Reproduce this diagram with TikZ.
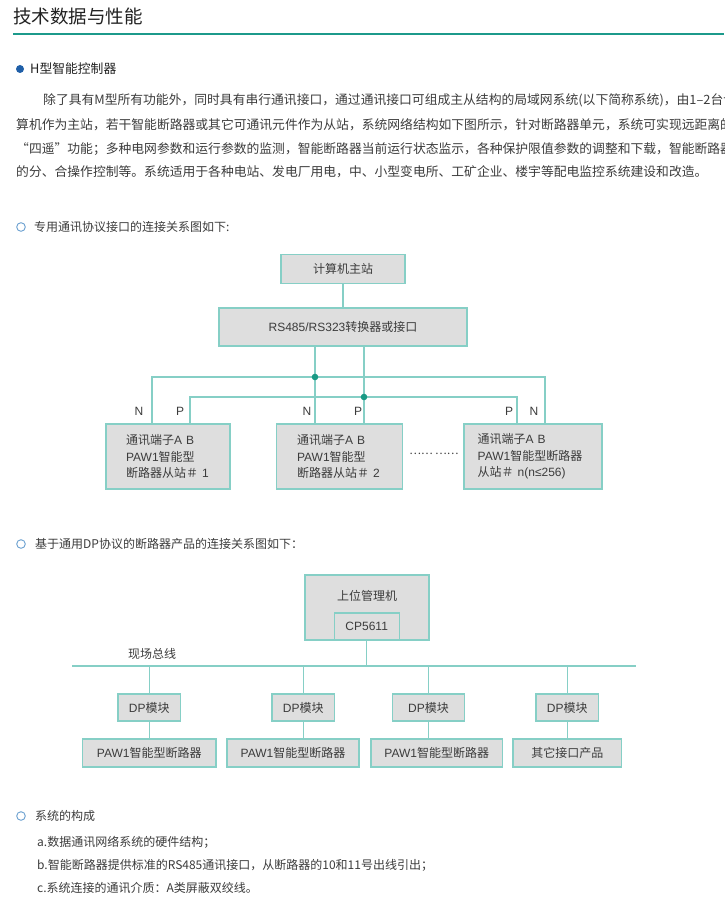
\documentclass[tikz,border=0pt]{standalone}
\usepackage{fontspec}
\setmainfont{Noto Sans CJK SC}
\newfontfamily\latf{Liberation Sans}
\newcommand\lat[1]{{\latf #1}}
\newcommand\diafont{\fontsize{12}{16.3}\selectfont}
\newcommand\parafont{\fontsize{12.8}{15}\selectfont}
\newcommand\smallfont{\fontsize{12}{14}\selectfont}
\definecolor{boxfill}{HTML}{DEDEDE}
\definecolor{boxline}{HTML}{86CFC6}
\definecolor{txt}{HTML}{3C3C3C}
\definecolor{titc}{HTML}{222222}
\definecolor{teal1}{HTML}{1C9A8B}
\definecolor{dotc}{HTML}{1A9A85}
\definecolor{bluec}{HTML}{1F5FA8}
\definecolor{ringc}{HTML}{6AA0D0}
\begin{document}
\begin{tikzpicture}[x=1pt,y=-1pt,
  box/.style={draw=boxline, fill=boxfill, line width=1.2pt, inner sep=0pt, text=txt, font=\diafont},
  wire/.style={draw=boxline, line width=1.1pt},
  lbl/.style={text=txt, inner sep=0pt, font=\diafont},
  para/.style={anchor=west, inner sep=0pt, text=txt, font=\parafont},
  small/.style={anchor=west, inner sep=0pt, text=txt, font=\smallfont},
  hollow/.style={draw=ringc, line width=0.9pt},
]
\fill[white] (0,0) rectangle (724,904);
\useasboundingbox (0,0) rectangle (724,904);

% title
\node[anchor=west, inner sep=0pt, text=titc, font=\fontsize{18.5}{20}\selectfont] (title) at (13,16) {技术数据与性能};
\coordinate (tlA) at (13,34);
\coordinate (tlB) at (724,34);
\draw[line width=2.6pt, draw=teal1] (tlA) -- (tlB);

% heading
\coordinate (hb) at (20,69);
\fill[bluec] (hb) circle (4);
\node[anchor=west, inner sep=0pt, text=titc, font=\parafont] (head) at (30,69) {H型智能控制器};

% paragraph
\node[para] (p1) at (43,100) {除了具有M型所有功能外，同时具有串行通讯接口，通过通讯接口可组成主从结构的局域网系统(以下简称系统)，由1–2台计};
\node[para] (p2) at (16,125) {算机作为主站，若干智能断路器或其它可通讯元件作为从站，系统网络结构如下图所示，针对断路器单元，系统可实现远距离的};
\node[para] (p3) at (16,149) {“四遥”功能；多种电网参数和运行参数的监测，智能断路器当前运行状态监示，各种保护限值参数的调整和下载，智能断路器};
\node[para] (p4) at (16,172) {的分、合操作控制等。系统适用于各种电站、发电厂用电，中、小型变电所、工矿企业、楼宇等配电监控系统建设和改造。};

% section 1
\coordinate (c1) at (21,227);
\draw[hollow] (c1) circle (4.3);
\node[small] (sec1) at (34,227) {专用通讯协议接口的连接关系图如下:};

% diagram 1
\node[box, minimum width=124, minimum height=29] (top) at (343,269) {计算机主站};
\node[box, minimum width=248, minimum height=38] (rs) at (343,327) {\lat{RS485/RS323}转换器或接口};
\node[box, minimum height=65, text width=84, inner xsep=20, align=left] (sl1) at (168,456.5) {通讯端子\lat{A B}\\\lat{PAW1}智能型\\断路器从站＃ \lat{1}};
\node[box, minimum height=65, text width=85, inner xsep=20.5, align=left] (sl2) at (339.5,456.5) {通讯端子\lat{A B}\\\lat{PAW1}智能型\\断路器从站＃ \lat{2}};
\node[box, minimum height=65, text width=110.6, inner xsep=13.7, align=left] (sl3) at (533,456.5) {通讯端子\lat{A B}\\\lat{PAW1}智能型断路器\\从站＃ \lat{n(n≤256)}};
\node[lbl, font=\fontsize{11}{11}\selectfont] (dots) at (434,454) {…… ……};

\coordinate (jN) at (315,377);
\coordinate (jP) at (364,397);
\coordinate (nL) at (152,377);
\coordinate (nR) at (545,377);
\coordinate (pL) at (190,397);
\coordinate (pR) at (517,397);
\draw[wire] (top) -- (rs);
\draw[wire] (rs.south -| jN) -- (sl2.north -| jN);
\draw[wire] (rs.south -| jP) -- (sl2.north -| jP);
\draw[wire] (sl1.north -| nL) -- (nL) -- (nR) -- (sl3.north -| nR);
\draw[wire] (sl1.north -| pL) -- (pL) -- (pR) -- (sl3.north -| pR);
\fill[dotc] (jN) circle (3.3);
\fill[dotc] (jP) circle (3.3);

\node[lbl] (lN1) at (139,411) {\lat{N}};
\node[lbl] (lP1) at (180,411) {\lat{P}};
\node[lbl] (lN2) at (307,411) {\lat{N}};
\node[lbl] (lP2) at (358,411) {\lat{P}};
\node[lbl] (lP3) at (509,411) {\lat{P}};
\node[lbl] (lN3) at (534,411) {\lat{N}};

% section 2
\coordinate (c2) at (21,544);
\draw[hollow] (c2) circle (4.3);
\node[small] (sec2) at (35,544) {基于通用DP协议的断路器产品的连接关系图如下：};

% diagram 2
\node[box, minimum width=124, minimum height=65] (host) at (367,607.5) {};
\node[lbl] (hostt) at (367,596) {上位管理机};
\node[box, minimum width=65, minimum height=27] (cp) at (366.7,626.5) {\lat{CP5611}};
\coordinate (busL) at (72,666);
\coordinate (busR) at (636,666);
\draw[wire] (busL) -- (busR);
\draw[wire] (cp) -- (cp |- busL);
\node[lbl] (bust) at (152,654) {现场总线};

\node[box, minimum width=62.5, minimum height=27] (dp1) at (149.25,707.5) {\lat{DP}模块};
\node[box, minimum width=62.5, minimum height=27] (dp2) at (303.25,707.5) {\lat{DP}模块};
\node[box, minimum width=72, minimum height=27] (dp3) at (428.5,707.5) {\lat{DP}模块};
\node[box, minimum width=62.5, minimum height=27] (dp4) at (567.25,707.5) {\lat{DP}模块};
\node[box, minimum width=133.5, minimum height=28] (pw1) at (149.25,753) {\lat{PAW1}智能型断路器};
\node[box, minimum width=132, minimum height=28] (pw2) at (293,753) {\lat{PAW1}智能型断路器};
\node[box, minimum width=131.5, minimum height=28] (pw3) at (436.75,753) {\lat{PAW1}智能型断路器};
\node[box, minimum width=108.5, minimum height=28] (pw4) at (567.25,753) {其它接口产品};
\foreach \d/\p in {dp1/pw1, dp2/pw2, dp3/pw3, dp4/pw4}{
  \draw[wire] (\d.north |- busL) -- (\d.north);
  \draw[wire] (\d.south) -- (\d.south |- \p.north);
}

% section 3
\coordinate (c3) at (21,816);
\draw[hollow] (c3) circle (4.3);
\node[small] (sec3) at (35,816) {系统的构成};
\node[small] (ia) at (37,842) {a.数据通讯网络系统的硬件结构；};
\node[small] (ib) at (37,865) {b.智能断路器提供标准的RS485通讯接口，从断路器的10和11号出线引出；};
\node[small] (ic) at (37,888) {c.系统连接的通讯介质：A类屏蔽双绞线。};
\end{tikzpicture}
\end{document}
